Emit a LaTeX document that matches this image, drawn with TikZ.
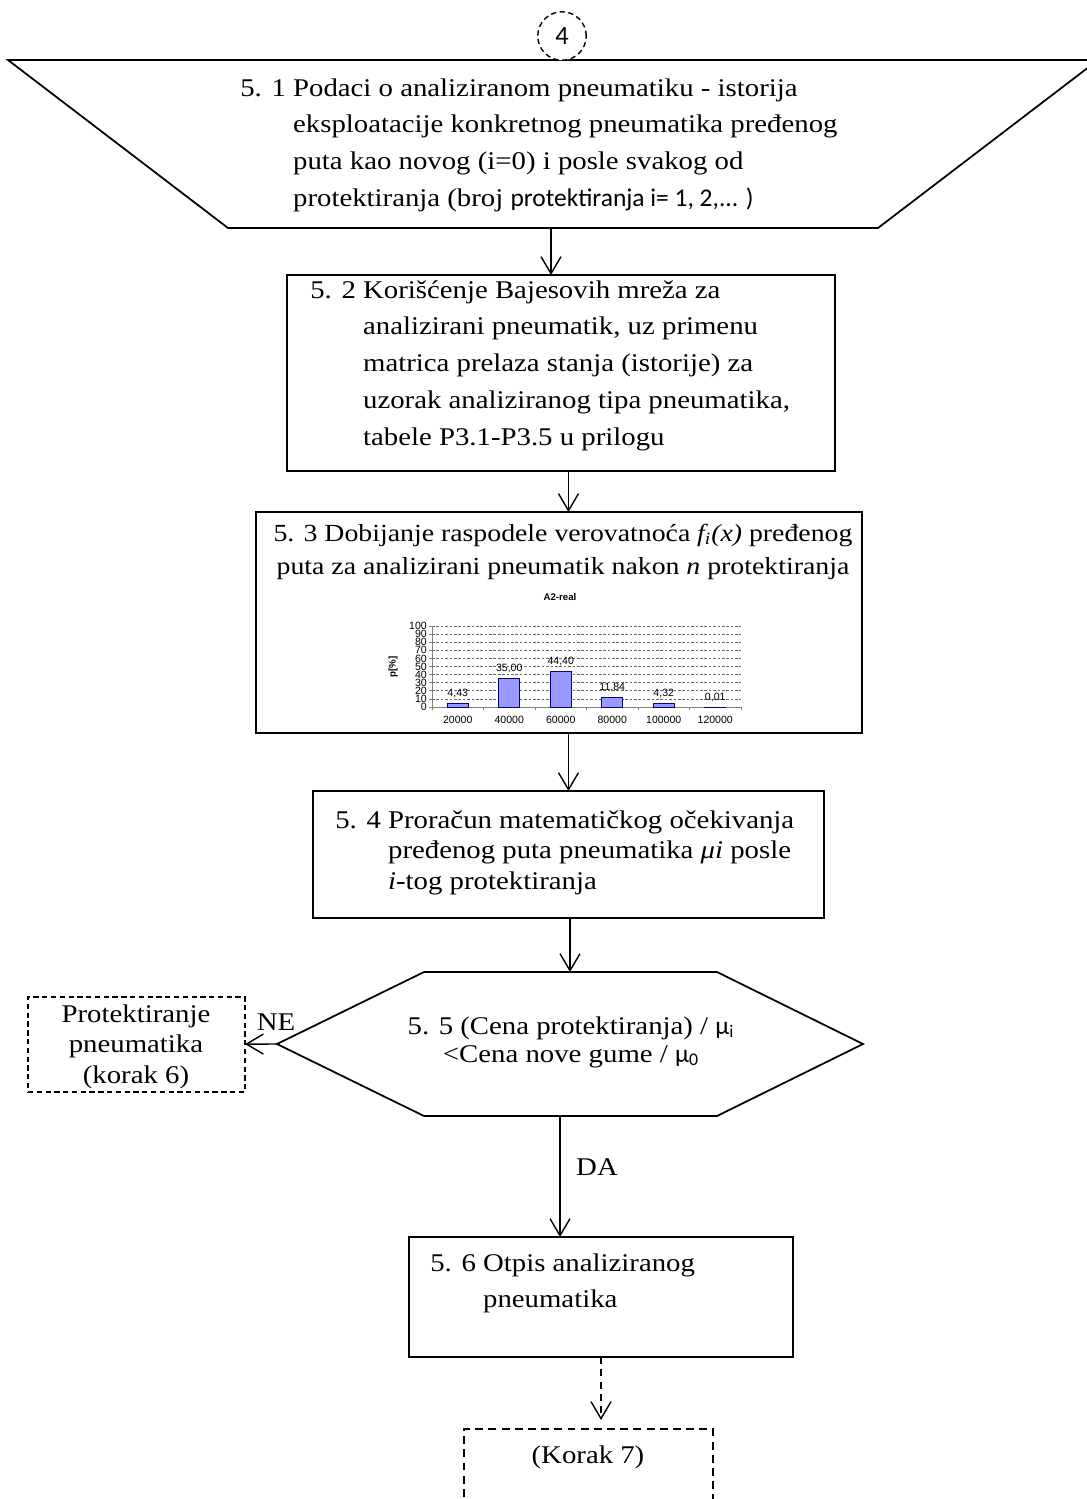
\documentclass[tikz,border=0pt]{standalone}
\usepackage{fontspec}
\setmainfont{Liberation Serif}[FakeStretch=1.13]
\newfontfamily\calfont{Carlito}
\newfontfamily\chartfont{Liberation Sans}
\usetikzlibrary{arrows.meta,calc,fit}
\definecolor{barfill}{RGB}{153,153,255}
\definecolor{barline}{RGB}{0,0,128}

\begin{document}
\begin{tikzpicture}[x=0.02cm,y=-0.02cm,>={Straight Barb[length=3.4mm,width=4mm]},
  box/.style={draw,line width=1pt,inner sep=0pt,outer sep=0pt},
  dbox/.style={draw,line width=0.8pt,dash pattern=on 3pt off 2pt,inner sep=0pt,outer sep=0pt},
  arr/.style={->,line width=0.8pt},
  txt/.style={inner sep=0pt,anchor=base west}]
  \useasboundingbox (0,0) rectangle (1087,1499);

  % 5.1 input
  \coordinate (tl) at (8,60);
  \coordinate (tr) at (1098,60);
  \coordinate (br) at (878,228);
  \coordinate (bl) at (228,228);
  \draw[line width=1pt] (tl) -- (tr) -- (br) -- (bl) -- cycle;
  \coordinate (p51) at (551,228);
  \node[draw,circle,dash pattern=on 3pt off 2pt,line width=0.8pt,minimum size=0.97cm,inner sep=0pt,
    fill=white,font=\calfont\fontsize{15}{18}\selectfont] (c4) at (562,36) {4};
  \node[txt,font=\fontsize{14.5}{21}\selectfont] (t51) at (240,96) {\begin{tabular}[t]{@{}l@{\ }l@{}}
    5. 1 & Podaci o analiziranom pneumatiku - istorija\\
         & eksploatacije konkretnog pneumatika pređenog\\
         & puta kao novog (i=0) i posle svakog od\\
         & protektiranja (broj {\calfont protektiranja i= 1, 2,... )}\end{tabular}};

  % boxes
  \node[box,fit={(287,275) (835,471)}] (b52) {};
  \node[box,fit={(256,512) (862,733)}] (b53) {};
  \node[box,fit={(313,791) (824,918)}] (b54) {};
  \node[dbox,fit={(28,997) (245,1092)}] (pr6) {};
  \node[box,fit={(409,1237) (793,1357)}] (b56) {};
  \node[dbox,dash pattern=on 4.5pt off 3pt,fit={(464,1429) (713,1530)}] (b7) {};

  \node[txt,font=\fontsize{14.5}{21}\selectfont] (t52) at (310,298) {\begin{tabular}[t]{@{}l@{\ }l@{}}
    5. 2 & Korišćenje Bajesovih mreža za\\
         & analizirani pneumatik, uz primenu\\
         & matrica prelaza stanja (istorije) za\\
         & uzorak analiziranog tipa pneumatika,\\
         & tabele P3.1-P3.5 u prilogu\end{tabular}};
  \node[txt,anchor=base,font=\fontsize{14}{19.3}\selectfont] (t53) at (563,541) {\begin{tabular}[t]{@{}c@{}}
    5. 3 Dobijanje raspodele verovatnoća \textit{f\textsubscript{i}(x)} pređenog\\
    puta za analizirani pneumatik nakon \textit{n} protektiranja\end{tabular}};
  \node[txt,font=\fontsize{14.5}{17.6}\selectfont] (t54) at (335,828) {\begin{tabular}[t]{@{}l@{\ }l@{}}
    5. 4 & Proračun matematičkog očekivanja\\
         & pređenog puta pneumatika \textit{μi} posle\\
         & \textit{i}-tog protektiranja\end{tabular}};
  \node[txt,font=\fontsize{14.5}{21}\selectfont] (t56) at (430,1271) {\begin{tabular}[t]{@{}l@{\ }l@{}}
    5. 6 & Otpis analiziranog\\
         & pneumatika\end{tabular}};
  \node[txt,anchor=base,font=\fontsize{14.5}{17.6}\selectfont] (t6) at (136,1022) {\begin{tabular}[t]{@{}c@{}}
    Protektiranje\\ pneumatika\\ (korak 6)\end{tabular}};
  \node[font=\fontsize{14.5}{17}\selectfont,inner sep=0pt] (t7) at (588,1457) {(Korak 7)};

  % chart in 5.3
  \begin{scope}[font=\chartfont\fontsize{6}{6.5}\selectfont]
    \foreach \v in {10,20,...,100}
      \draw[black!60,dash pattern=on 1.5pt off 1pt,line width=0.4pt] (432,{707-0.81*\v}) -- (741,{707-0.81*\v});
    \draw[gray,line width=0.5pt] (432,626) -- (432,707) -- (741,707);
    \foreach \v in {0,10,...,100}{
      \draw[gray,line width=0.4pt] (429,{707-0.81*\v}) -- (432,{707-0.81*\v});
      \node[anchor=east,inner sep=0.5pt] (yl\v) at (428,{707-0.81*\v}) {\v};}
    \foreach \k in {0,...,6}
      \draw[gray,line width=0.4pt] ({432+51.5*\k},707) -- ({432+51.5*\k},710);
    \foreach \k/\v/\lab/\km in {1/4.43/{4,43}/20000,2/35/{35,00}/40000,3/44.4/{44,40}/60000,
        4/11.84/{11,84}/80000,5/4.32/{4,32}/100000,6/0.01/{0,01}/120000}{
      \draw[draw=barline,fill=barfill,line width=0.5pt] ({432+51.5*\k-36.25},707) rectangle ({432+51.5*\k-15.25},{707-0.81*\v});
      \node[inner sep=0.5pt] (dl\k) at ({432+51.5*\k-25.75},{697-0.81*\v}) {\lab};
      \node[inner sep=0.5pt] (xl\k) at ({432+51.5*\k-25.75},720) {\km};}
    \node[font=\chartfont\bfseries\fontsize{5.5}{6}\selectfont] (ctitle) at (560,597) {A2-real};
    \node[rotate=90,font=\chartfont\bfseries\fontsize{5.5}{6}\selectfont] (ylab) at (393,667) {p[\%]};
  \end{scope}

  % 5.5 decision
  \coordinate (hl) at (277,1044);
  \coordinate (hta) at (424,972);
  \coordinate (htb) at (717,972);
  \coordinate (hr) at (863,1044);
  \coordinate (hbb) at (717,1116);
  \coordinate (hba) at (424,1116);
  \draw[line width=1pt] (hl) -- (hta) -- (htb) -- (hr) -- (hbb) -- (hba) -- cycle;
  \coordinate (htop) at (570,972);
  \coordinate (hbot) at (560,1116);
  \node[txt,anchor=base,font=\fontsize{14.5}{16}\selectfont] (t55) at (571,1034) {\begin{tabular}[t]{@{}c@{}}
    5. 5 (Cena protektiranja) / {\calfont μ\textsubscript{i}}\\
    <Cena nove gume / {\calfont μ\textsubscript{0}}\end{tabular}};

  % connectors
  \draw[arr] (p51) -- (p51 |- b52.north);
  \draw[arr] (b52.south -| b54) -- (b53.north -| b54);
  \draw[arr] (b53.south -| b54) -- (b54);
  \draw[arr] (b54.south -| htop) -- (htop);
  \draw[arr] (hl) -- (pr6);
  \draw[arr] (hbot) -- (hbot |- b56.north);
  \draw[arr,dash pattern=on 4pt off 3pt,shorten >=0.18cm] (b56.south) -- (b56.south |- b7.north);
  \node[font=\fontsize{14.5}{17}\selectfont,inner sep=0pt] (ne) at (276,1022) {NE};
  \node[font=\fontsize{14.5}{17}\selectfont,inner sep=0pt] (da) at (597,1167) {DA};
\end{tikzpicture}
\end{document}
